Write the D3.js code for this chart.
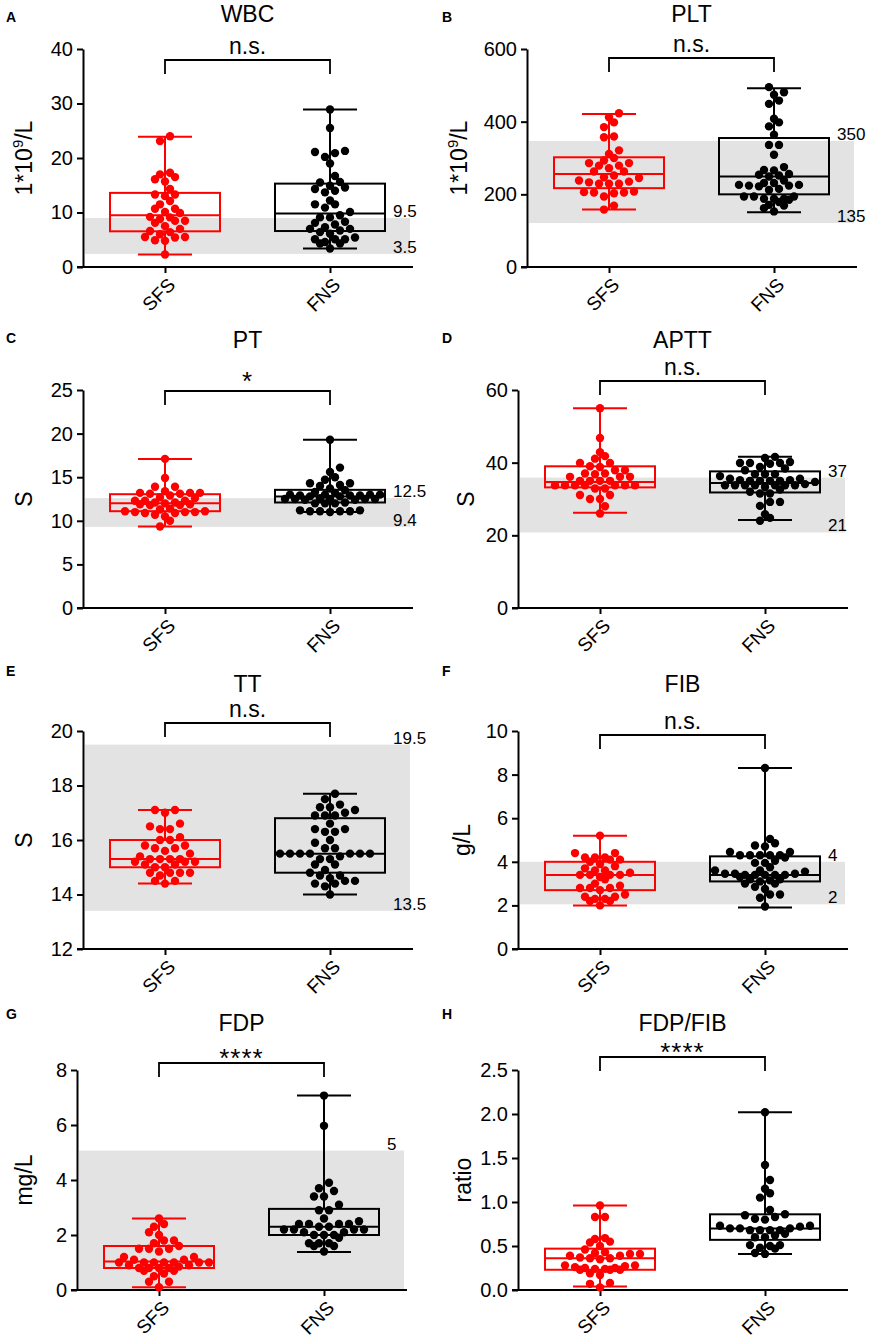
<!DOCTYPE html>
<html>
<head>
<meta charset="utf-8">
<script src="https://cdn.jsdelivr.net/npm/d3@7"></script>
<style>
  body { margin: 0; background: #fff; }
  svg text { font-family: Arial, "Liberation Sans", sans-serif; fill: #000; }
</style>
</head>
<body>
<svg id="chart" width="870" height="1339"></svg>
<script>
let groups = ['SFS', 'FNS'];

// WBC (1*10^9/L)
let wbcSFS = [24.0, 23.1, 17.3, 16.5, 17.0, 15.7, 16.1, 14.3, 13.3, 13.0, 13.3, 12.1, 11.5, 10.7, 10.1, 10.7, 9.9,
  9.1, 9.2, 8.5, 8.1, 8.5, 8.8, 7.5, 7.0, 6.6, 6.0, 6.4, 5.5, 5.5, 5.4, 4.9, 4.8, 2.3];
let wbcFNS = [28.9, 25.5, 21.3, 20.9, 21.1, 20.2, 19.0, 16.7, 15.6, 15.5, 14.9, 14.6, 14.0, 13.7, 14.3, 12.2, 11.5,
  11.5, 10.9, 10.1, 9.5, 9.1, 9.1, 8.3, 7.8, 7.3, 8.1, 7.0, 7.0, 6.4, 6.7, 6.1, 5.1, 5.1, 5.4, 5.1, 4.3, 4.3, 4.6, 3.4];
let wbcBoxes = [[2.3, 6.55, 9.5, 13.6, 23.9], [3.4, 6.6, 9.8, 15.3, 28.9]];
let wbcRef = [2.4, 9.0];
let wbcRefLabels = ['3.5', '9.5'];
let wbcTicks = [0, 10, 20, 30, 40];

// PLT (1*10^9/L)
let pltSFS = [423, 412, 398, 385, 357, 359, 321, 311, 293, 300, 279, 272, 286, 286, 279, 263, 252, 263, 245, 247,
  235, 238, 229, 229, 229, 233, 208, 205, 203, 205, 206, 194, 158, 169];
let pltFNS = [495, 481, 474, 458, 449, 398, 408, 387, 364, 336, 336, 309, 275, 266, 238, 254, 249, 252, 256, 267,
  231, 224, 226, 226, 222, 224, 231, 215, 212, 194, 188, 188, 194, 188, 194, 171, 179, 185, 169, 153, 162];
let pltBoxes = [[158, 217, 256, 302, 421], [151, 200, 249, 355, 492]];
let pltRef = [121, 347];
let pltRefLabels = ['135', '350'];
let pltTicks = [0, 200, 400, 600];

// PT (S)
let ptSFS = [17.1, 14.9, 13.9, 13.9, 13.2, 13.2, 13.1, 12.9, 13.1, 13.2, 13.4, 12.6, 12.7, 12.3, 12.1, 11.9, 11.9,
  11.8, 11.8, 12.0, 12.1, 12.3, 12.3, 11.4, 11.1, 11.0, 10.9, 10.7, 11.0, 10.9, 11.0, 11.1, 11.3, 10.5, 10.0, 9.35];
let ptFNS = [19.3, 16.1, 15.6, 15.0, 14.7, 14.3, 14.0, 14.1, 14.3, 13.5, 13.7, 13.3, 13.0, 13.0, 12.9, 12.9, 12.8,
  12.8, 13.0, 13.0, 12.9, 13.2, 12.5, 12.5, 12.4, 12.5, 12.4, 12.6, 12.5, 12.5, 12.1, 12.0, 12.0, 12.0, 11.2, 11.1,
  11.1, 11.1, 11.1, 11.2, 11.0];
let ptBoxes = [[9.35, 11.1, 12.0, 13.05, 17.1], [11.0, 12.1, 12.8, 13.55, 19.3]];
let ptRef = [9.3, 12.6];
let ptRefLabels = ['9.4', '12.5'];
let ptTicks = [0, 5, 10, 15, 20, 25];

// APTT (S)
let apttSFS = [55.0, 46.8, 42.9, 41.8, 41.1, 39.9, 39.9, 38.8, 39.0, 37.9, 37.9, 37.0, 36.8, 37.0, 36.1, 36.1, 36.1,
  35.0, 35.0, 35.0, 35.0, 33.8, 33.8, 33.8, 33.8, 33.8, 33.8, 33.8, 32.9, 32.9, 31.1, 31.1, 30.0, 30.0, 28.0, 26.0];
let apttFNS = [41.3, 41.6, 39.9, 39.9, 39.7, 39.9, 40.2, 38.8, 37.9, 38.4, 36.8, 36.8, 36.8, 36.3, 35.2, 35.2, 35.6,
  35.6, 34.7, 35.0, 35.0, 35.0, 35.0, 33.8, 33.8, 34.1, 33.8, 33.8, 33.8, 33.3, 33.8, 33.8, 32.6, 32.0, 31.5, 31.5,
  29.2, 29.2, 28.1, 25.8, 24.8, 24.0];
let apttBoxes = [[26.2, 33.2, 34.7, 39.0, 55.0], [24.2, 31.8, 34.4, 37.6, 41.6]];
let apttRef = [20.8, 35.9];
let apttRefLabels = ['21', '37'];
let apttTicks = [0, 20, 40, 60];

// TT (S)
let ttSFS = [17.1, 17.1, 17.0, 16.6, 16.4, 16.4, 16.5, 16.1, 16.0, 16.0, 15.8, 15.8, 15.7, 15.7, 15.6, 15.5, 15.4,
  15.3, 15.3, 15.2, 15.2, 15.2, 15.3, 15.3, 15.1, 15.1, 15.0, 15.0, 14.8, 14.8, 14.8, 14.8, 14.7, 14.5, 14.5, 14.4];
let ttFNS = [17.7, 17.5, 17.3, 17.2, 17.2, 17.1, 16.9, 16.9, 16.9, 17.0, 16.6, 16.4, 16.3, 16.3, 16.4, 16.0, 15.9,
  15.7, 15.7, 15.5, 15.5, 15.5, 15.5, 15.5, 15.5, 15.5, 15.4, 15.3, 15.3, 15.1, 15.1, 14.8, 14.9, 14.7, 14.7, 14.6,
  14.5, 14.5, 14.4, 14.4, 14.3, 14.0];
let ttBoxes = [[14.4, 15.0, 15.3, 16.0, 17.1], [14.0, 14.8, 15.5, 16.8, 17.7]];
let ttRef = [13.4, 19.5];
let ttRefLabels = ['13.5', '19.5'];
let ttTicks = [12, 14, 16, 18, 20];

// FIB (g/L)
let fibSFS = [5.2, 4.4, 4.4, 4.2, 4.1, 4.0, 4.1, 4.2, 4.2, 3.9, 3.8, 3.7, 3.6, 3.5, 3.6, 3.4, 3.4, 3.4, 3.4, 3.3,
  3.2, 3.0, 2.9, 2.8, 2.8, 2.8, 2.7, 2.5, 2.4, 2.4, 2.3, 2.2, 2.2, 2.3, 2.0];
let fibFNS = [8.3, 5.05, 4.85, 4.75, 4.7, 4.45, 4.45, 4.3, 4.3, 4.3, 4.2, 4.3, 4.3, 4.05, 3.95, 3.95, 3.75, 3.6, 3.6,
  3.4, 3.4, 3.3, 3.55, 3.45, 3.45, 3.45, 3.4, 3.4, 3.4, 3.2, 3.15, 3.2, 3.0, 3.0, 3.1, 2.85, 2.75, 2.5, 2.5, 2.35, 1.95];
let fibBoxes = [[2.0, 2.7, 3.4, 4.0, 5.2], [1.9, 3.1, 3.4, 4.25, 8.3]];
let fibRef = [2.05, 4.0];
let fibRefLabels = ['2', '4'];
let fibTicks = [0, 2, 4, 6, 8, 10];

// FDP (mg/L)
let fdpSFS = [2.6, 2.4, 2.3, 2.1, 2.0, 1.8, 1.8, 1.7, 1.5, 1.5, 1.5, 1.6, 1.4, 1.2, 1.2, 1.1, 1.1, 1.0, 1.0, 1.0,
  1.0, 1.0, 1.0, 1.0, 0.8, 0.8, 0.85, 0.9, 0.9, 0.8, 0.8, 0.7, 0.7, 0.6, 0.5, 0.3, 0.3, 0.1];
let fdpFNS = [7.07, 5.97, 3.9, 3.6, 3.7, 3.4, 3.4, 3.1, 2.9, 2.9, 2.6, 2.5, 2.4, 2.4, 2.4, 2.4, 2.3, 2.3, 2.2, 2.2,
  2.2, 2.2, 2.1, 2.1, 2.0, 2.0, 2.0, 1.9, 1.7, 1.7, 1.7, 1.6, 1.6, 1.4];
let fdpBoxes = [[0.1, 0.8, 1.04, 1.6, 2.6], [1.38, 2.0, 2.3, 2.95, 7.07]];
let fdpRef = [0, 5.07];
let fdpRefLabels = [null, '5'];
let fdpTicks = [0, 2, 4, 6, 8];

// FDP/FIB (ratio)
let ratioSFS = [0.96, 0.83, 0.83, 0.58, 0.59, 0.55, 0.54, 0.5, 0.46, 0.42, 0.41, 0.39, 0.41, 0.43, 0.39, 0.36, 0.35,
  0.36, 0.37, 0.28, 0.27, 0.25, 0.23, 0.23, 0.25, 0.24, 0.23, 0.24, 0.26, 0.28, 0.19, 0.17, 0.08, 0.07, 0.03];
let ratioFNS = [2.02, 1.42, 1.25, 1.15, 1.10, 1.05, 0.91, 0.85, 0.86, 0.8, 0.81, 0.83, 0.73, 0.70, 0.70, 0.72, 0.73,
  0.68, 0.68, 0.68, 0.68, 0.70, 0.62, 0.60, 0.60, 0.64, 0.51, 0.50, 0.51, 0.47, 0.48, 0.41, 0.42];
let ratioBoxes = [[0.04, 0.23, 0.36, 0.47, 0.96], [0.41, 0.57, 0.70, 0.86, 2.02]];
let ratioTicks = [0, 0.5, 1, 1.5, 2, 2.5];

let COLORS = ['#ff0000', '#000000'];
let BAND = '#e3e3e3';
let ROW_TOP = [49, 390, 731, 1070];
let ROW_BOTTOM = [267, 608, 949, 1290];
let TITLE_Y = [22, 348, 692, 1031];
let LETTER_Y = [22, 343, 676, 1019];
let COL_X = [6, 442];
let DOT_R = 4.2;
let DOT_GAP = 10;
let BIN_H = 6;
let BIN_MAX = 10;

let panels = [
  { letter: 'A', title: 'WBC', unit: ['1*10', '9', '/L'], sfs: wbcSFS, fns: wbcFNS, boxes: wbcBoxes,
    domain: [0, 40], ticks: wbcTicks, ref: wbcRef, refLabels: wbcRefLabels, sig: 'n.s.',
    col: 0, row: 0, axisX: 83, labelX: 32, bracketDy: 11 },
  { letter: 'B', title: 'PLT', unit: ['1*10', '9', '/L'], sfs: pltSFS, fns: pltFNS, boxes: pltBoxes,
    domain: [0, 600], ticks: pltTicks, ref: pltRef, refLabels: pltRefLabels, sig: 'n.s.',
    col: 1, row: 0, axisX: 527, labelX: 467, bracketDy: 9 },
  { letter: 'C', title: 'PT', unit: ['S'], sfs: ptSFS, fns: ptFNS, boxes: ptBoxes,
    domain: [0, 25], ticks: ptTicks, ref: ptRef, refLabels: ptRefLabels, sig: '*',
    col: 0, row: 1, axisX: 83, labelX: 32, bracketDy: 1 },
  { letter: 'D', title: 'APTT', unit: ['S'], sfs: apttSFS, fns: apttFNS, boxes: apttBoxes,
    domain: [0, 60], ticks: apttTicks, ref: apttRef, refLabels: apttRefLabels, sig: 'n.s.',
    col: 1, row: 1, axisX: 518, labelX: 474, bracketDy: -9 },
  { letter: 'E', title: 'TT', unit: ['S'], sfs: ttSFS, fns: ttFNS, boxes: ttBoxes,
    domain: [12, 20], ticks: ttTicks, ref: ttRef, refLabels: ttRefLabels, sig: 'n.s.',
    col: 0, row: 2, axisX: 83, labelX: 32, bracketDy: -8 },
  { letter: 'F', title: 'FIB', unit: ['g/L'], sfs: fibSFS, fns: fibFNS, boxes: fibBoxes,
    domain: [0, 10], ticks: fibTicks, ref: fibRef, refLabels: fibRefLabels, sig: 'n.s.',
    col: 1, row: 2, axisX: 518, labelX: 470, bracketDy: 4 },
  { letter: 'G', title: 'FDP', unit: ['mg/L'], sfs: fdpSFS, fns: fdpFNS, boxes: fdpBoxes,
    domain: [0, 8], ticks: fdpTicks, ref: fdpRef, refLabels: fdpRefLabels, sig: '****',
    col: 0, row: 3, axisX: 77, labelX: 32, bracketDy: -7 },
  { letter: 'H', title: 'FDP/FIB', unit: ['ratio'], sfs: ratioSFS, fns: ratioFNS, boxes: ratioBoxes,
    domain: [0, 2.5], ticks: ratioTicks, ref: null, refLabels: null, sig: '****', format: '.1f',
    col: 1, row: 3, axisX: 518, labelX: 471, bracketDy: -13 }
];

// Prism-like column scatter: dots with close values share a row centred on the group;
// a row sitting right above another one is shifted half a step so the two interleave
function swarm (values, y, cx) {
  let pts = values.map(v => ({ v: v, py: y(v) })).sort((a, b) => b.py - a.py);
  let bins = [];
  pts.forEach(p => {
    let last = bins[bins.length - 1];
    if (last && last[0].py - p.py < BIN_H && last.length < BIN_MAX) {
      last.push(p);
    } else {
      bins.push([p]);
    }
  });
  let prev = null;
  bins.forEach(bin => {
    let n = bin.length;
    let phase = n % 2 === 1 ? 0 : DOT_GAP / 2;
    let shift = 0;
    if (prev && prev.py - bin[0].py < 2 * DOT_R + 0.5 && prev.phase === phase) {
      shift = DOT_GAP / 2 * (prev.shift === 0 ? 1 : -1);
      phase = (phase + DOT_GAP / 2) % DOT_GAP;
    }
    let slots = d3.range(n).map(i => (i - (n - 1) / 2) * DOT_GAP + shift)
      .sort((a, b) => Math.abs(a) - Math.abs(b) || a - b);
    bin.forEach((p, i) => { p.px = cx + slots[i]; });
    prev = { py: d3.mean(bin, p => p.py), phase: phase, shift: shift };
  });
  return pts;
}

function drawPanel (svg, p) {
  let g = svg.append('g').attr('class', 'panel');
  let top = ROW_TOP[p.row];
  let bottom = ROW_BOTTOM[p.row];
  let x0 = p.axisX;
  let y = d3.scaleLinear().domain(p.domain).range([bottom, top]);
  let x = d3.scalePoint().domain(groups).range([x0 + 82, x0 + 247]);

  // Reference range band
  if (p.ref) {
    g.append('rect')
      .attr('x', x0 + 2)
      .attr('width', 325)
      .attr('y', y(p.ref[1]))
      .attr('height', y(p.ref[0]) - y(p.ref[1]))
      .attr('fill', BAND);
    p.refLabels.forEach((lab, i) => {
      if (lab === null) return;
      g.append('text')
        .attr('x', x0 + 310)
        .attr('y', y(p.ref[i]) - 1)
        .style('font-size', '17px')
        .text(lab);
    });
  }

  // Axes
  let yAxis = d3.axisLeft(y)
    .tickValues(p.ticks)
    .tickSize(6)
    .tickSizeOuter(0)
    .tickPadding(4)
    .tickFormat(d3.format(p.format || 'd'));
  let ya = g.append('g')
    .attr('transform', 'translate(' + x0 + ',0)')
    .call(yAxis);
  ya.selectAll('path, line').attr('stroke-width', 2);
  ya.selectAll('text').style('font-size', '20px');

  let xAxis = d3.axisBottom(x).tickSize(6).tickSizeOuter(0);
  let xa = g.append('g')
    .attr('transform', 'translate(0,' + bottom + ')')
    .call(xAxis);
  xa.select('.domain').remove();
  xa.append('line')
    .attr('x1', x0 - 6)
    .attr('x2', x0 + 330)
    .attr('stroke', '#000')
    .attr('stroke-width', 2);
  xa.selectAll('line').attr('stroke-width', 2);
  xa.selectAll('.tick text')
    .attr('x', 0)
    .attr('y', 0)
    .attr('dy', 0)
    .attr('text-anchor', 'end')
    .attr('transform', 'translate(11,19) rotate(-45)')
    .style('font-size', '19px');

  // Boxes, whiskers and dots
  groups.forEach((name, i) => {
    let b = p.boxes[i];
    let cx = x(name);
    let color = COLORS[i];
    let box = g.append('g')
      .attr('stroke', color)
      .attr('stroke-width', 2)
      .attr('fill', 'none');
    box.append('line').attr('x1', cx).attr('x2', cx).attr('y1', y(b[3])).attr('y2', y(b[4]));
    box.append('line').attr('x1', cx).attr('x2', cx).attr('y1', y(b[0])).attr('y2', y(b[1]));
    [b[0], b[4]].forEach(v => {
      box.append('line').attr('x1', cx - 27).attr('x2', cx + 27).attr('y1', y(v)).attr('y2', y(v));
    });
    box.append('rect')
      .attr('x', cx - 55)
      .attr('width', 110)
      .attr('y', y(b[3]))
      .attr('height', y(b[1]) - y(b[3]));
    box.append('line').attr('x1', cx - 55).attr('x2', cx + 55).attr('y1', y(b[2])).attr('y2', y(b[2]));

    let values = i === 0 ? p.sfs : p.fns;
    g.append('g').selectAll('circle')
      .data(swarm(values, y, cx))
      .join('circle')
      .attr('cx', d => d.px)
      .attr('cy', d => d.py)
      .attr('r', DOT_R)
      .attr('fill', color);
  });

  // Significance bracket
  let bTop = top + p.bracketDy;
  g.append('path')
    .attr('d', 'M' + x('SFS') + ',' + (bTop + 14) + 'V' + bTop + 'H' + x('FNS') + 'V' + (bTop + 14))
    .attr('fill', 'none')
    .attr('stroke', '#000')
    .attr('stroke-width', 1.8);
  let stars = p.sig !== 'n.s.';
  g.append('text')
    .attr('x', (x('SFS') + x('FNS')) / 2)
    .attr('y', stars ? bTop + (p.sig.length > 1 ? 4 : -1) : bTop - 6)
    .attr('text-anchor', 'middle')
    .style('font-size', stars ? '26px' : '23px')
    .style('letter-spacing', stars ? '1px' : null)
    .text(p.sig);

  // Title, panel letter, unit label
  g.append('text')
    .attr('x', (x('SFS') + x('FNS')) / 2)
    .attr('y', TITLE_Y[p.row])
    .attr('text-anchor', 'middle')
    .style('font-size', '23px')
    .text(p.title);
  g.append('text')
    .attr('x', COL_X[p.col])
    .attr('y', LETTER_Y[p.row])
    .style('font-size', '14px')
    .style('font-weight', 'bold')
    .text(p.letter);
  let unit = g.append('text')
    .attr('transform', 'translate(' + p.labelX + ',' + (top + bottom) / 2 + ') rotate(-90)')
    .attr('text-anchor', 'middle')
    .style('font-size', '23px');
  unit.append('tspan').text(p.unit[0]);
  if (p.unit.length > 1) {
    unit.append('tspan').attr('dy', -9).style('font-size', '15px').text(p.unit[1]);
    unit.append('tspan').attr('dy', 9).text(p.unit[2]);
  }
}

let svg = d3.select('#chart');
svg.append('rect').attr('width', 870).attr('height', 1339).attr('fill', '#fff');
panels.forEach(p => drawPanel(svg, p));
</script>
</body>
</html>
